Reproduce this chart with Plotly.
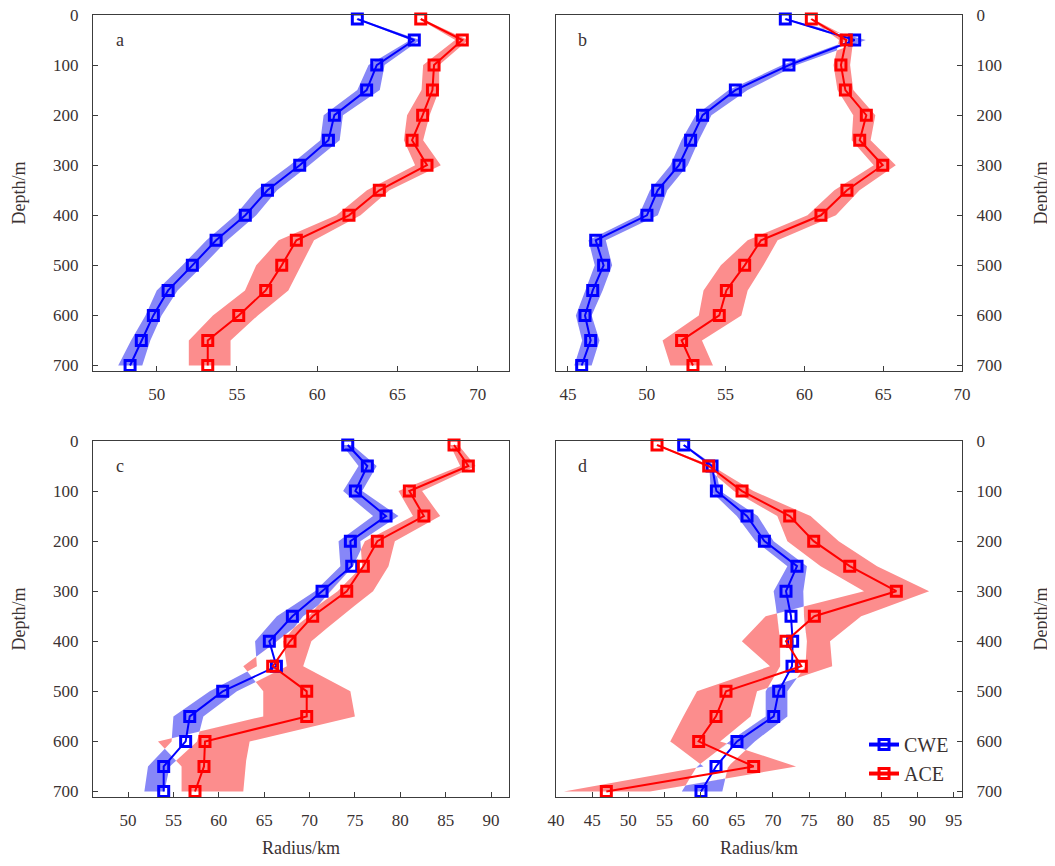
import plotly.graph_objects as go

# ---------------- data ----------------
depth = [8, 50, 100, 150, 200, 250, 300, 350, 400, 450, 500, 550, 600, 650, 700]

cwe_a = [62.50, 66.05, 63.71, 63.08, 61.07, 60.70, 58.91, 56.90, 55.52, 53.70, 52.22, 50.71, 49.79, 49.04, 48.34]
cwe_a_lo = [62.4, 65.8, 63.2, 62.5, 60.4, 60.2, 58.3, 56.2, 54.9, 53.1, 51.6, 50.0, 49.3, 48.4, 47.6]
cwe_a_hi = [62.6, 66.4, 64.2, 63.9, 61.6, 61.4, 59.5, 57.5, 56.2, 54.4, 52.9, 51.3, 50.3, 49.6, 49.1]
ace_a = [66.45, 69.04, 67.28, 67.18, 66.57, 65.91, 66.84, 63.87, 61.98, 58.70, 57.79, 56.79, 55.11, 53.18, 53.18]
ace_a_lo = [66.35, 68.6, 66.6, 66.5, 65.6, 65.4, 66.1, 63.1, 61.2, 57.6, 56.2, 55.5, 53.5, 52.0, 52.0]
ace_a_hi = [66.55, 69.4, 67.6, 67.6, 67.0, 66.6, 67.7, 64.5, 62.7, 59.8, 59.0, 58.2, 56.3, 54.6, 54.6]

cwe_b = [58.79, 63.19, 59.02, 55.62, 53.54, 52.78, 52.04, 50.69, 50.01, 46.76, 47.26, 46.57, 46.08, 46.44, 45.87]
cwe_b_lo = [58.7, 62.9, 58.6, 55.2, 53.1, 52.2, 51.5, 50.2, 49.5, 46.3, 46.7, 46.1, 45.5, 45.9, 45.4]
cwe_b_hi = [58.9, 63.9, 59.5, 56.4, 54.1, 53.3, 52.6, 51.3, 50.7, 47.4, 47.8, 47.2, 46.5, 47.0, 46.5]
ace_b = [60.44, 62.66, 62.32, 62.60, 63.93, 63.51, 64.97, 62.70, 61.05, 57.25, 56.21, 55.05, 54.60, 52.21, 52.93]
ace_b_lo = [60.35, 62.2, 61.85, 62.1, 63.1, 63.0, 64.4, 61.9, 60.2, 56.4, 54.7, 53.6, 53.3, 51.0, 51.5]
ace_b_hi = [60.55, 63.1, 62.9, 63.1, 64.5, 64.2, 65.8, 63.5, 62.0, 58.3, 57.4, 56.4, 56.0, 53.5, 54.2]

cwe_c = [74.21, 76.37, 75.05, 78.43, 74.50, 74.65, 71.38, 68.11, 65.57, 66.35, 60.43, 56.80, 56.35, 53.93, 53.93]
cwe_c_lo = [73.6, 75.4, 73.7, 77.0, 73.2, 73.4, 70.6, 66.4, 64.0, 64.2, 59.0, 55.0, 54.8, 52.2, 51.8]
cwe_c_hi = [74.7, 77.4, 75.8, 79.8, 75.6, 75.8, 73.1, 69.3, 67.1, 67.5, 62.0, 58.3, 57.6, 54.6, 54.0]
ace_c = [85.92, 87.50, 81.00, 82.60, 77.47, 75.93, 74.10, 70.35, 67.85, 65.94, 69.69, 69.69, 58.48, 58.37, 57.38]
ace_c_lo = [85.5, 86.6, 79.8, 81.4, 76.1, 74.8, 72.3, 69.9, 66.4, 62.7, 64.9, 64.9, 53.3, 55.9, 55.9]
ace_c_hi = [86.4, 88.3, 82.4, 84.4, 79.4, 78.7, 77.0, 73.5, 70.2, 69.3, 74.5, 75.0, 63.4, 62.9, 62.7]

cwe_d = [57.66, 61.58, 62.18, 66.42, 68.82, 73.33, 71.81, 72.50, 72.73, 72.64, 70.80, 70.11, 65.03, 62.13, 60.05]
cwe_d_lo = [57.5, 61.2, 61.4, 65.0, 67.6, 72.0, 70.1, 70.6, 71.0, 71.0, 69.0, 69.0, 64.0, 59.5, 57.4]
cwe_d_hi = [57.9, 62.0, 62.7, 67.9, 70.1, 74.7, 74.2, 74.3, 74.7, 74.5, 72.0, 72.0, 67.5, 63.8, 63.0]
ace_d = [53.97, 61.12, 65.73, 72.32, 75.64, 80.62, 87.07, 75.73, 71.81, 73.93, 63.51, 62.13, 59.73, 67.34, 46.96]
ace_d_lo = [53.8, 60.6, 64.6, 70.6, 72.0, 76.6, 82.6, 69.0, 65.7, 69.6, 59.5, 57.6, 55.8, 60.4, 41.1]
ace_d_hi = [54.2, 61.6, 67.3, 75.2, 79.1, 84.4, 91.6, 82.2, 77.9, 78.2, 67.8, 66.9, 62.7, 73.2, 53.0]

panel_letters = ["a", "b", "c", "d"]
x_ticks = [[50, 55, 60, 65, 70], [45, 50, 55, 60, 65, 70],
           [50, 55, 60, 65, 70, 75, 80, 85, 90],
           [40, 45, 50, 55, 60, 65, 70, 75, 80, 85, 90, 95]]
y_ticks = [0, 100, 200, 300, 400, 500, 600, 700]
series_names = ["CWE", "ACE"]

# ---------------- style ----------------
FONT = "Liberation Serif"
TXT = "#3a3232"
AX = "#3c3c3c"
BLUE = "#0000ff"
RED = "#ff0000"
BLUE_BAND = "#8787f7"
RED_BAND = "#fc8d8d"

W, H = 1055, 866
OFF = 8  # page body margin of the browser


def xdom(left, right):
    return [(left - OFF) / W, (right - OFF) / W]


def ydom(top, bottom):
    return [1 - (bottom - OFF) / H, 1 - (top - OFF) / H]


panels = [
    dict(cwe=(cwe_a, cwe_a_lo, cwe_a_hi), ace=(ace_a, ace_a_lo, ace_a_hi),
         xr=[46.03, 71.95], xd=xdom(93, 509), yd=ydom(15, 371), side="left", xtitle=False),
    dict(cwe=(cwe_b, cwe_b_lo, cwe_b_hi), ace=(ace_b, ace_b_lo, ace_b_hi),
         xr=[44.24, 70.0], xd=xdom(556, 962), yd=ydom(15, 371), side="right", xtitle=False),
    dict(cwe=(cwe_c, cwe_c_lo, cwe_c_hi), ace=(ace_c, ace_c_lo, ace_c_hi),
         xr=[46.14, 91.98], xd=xdom(93, 509), yd=ydom(441, 797), side="left", xtitle=True),
    dict(cwe=(cwe_d, cwe_d_lo, cwe_d_hi), ace=(ace_d, ace_d_lo, ace_d_hi),
         xr=[40.0, 96.15], xd=xdom(556, 962), yd=ydom(441, 797), side="right", xtitle=True),
]


def split_bands(dep, bl, bh, rl, rh):
    """Sample both bands at every depth and at every crossing of their edges."""
    ys, vals = [], []
    n = len(dep)
    for i in range(n - 1):
        f0 = [bl[i], bh[i], rl[i], rh[i]]
        f1 = [bl[i + 1], bh[i + 1], rl[i + 1], rh[i + 1]]
        ts = {0.0}
        for a in range(4):
            for b in range(a + 1, 4):
                da = f0[a] - f0[b]
                db = f1[a] - f1[b]
                if da * db < 0:
                    ts.add(da / (da - db))
        for t in sorted(ts):
            ys.append(dep[i] + t * (dep[i + 1] - dep[i]))
            vals.append([f0[k] + t * (f1[k] - f0[k]) for k in range(4)])
    ys.append(dep[-1])
    vals.append([bl[-1], bh[-1], rl[-1], rh[-1]])
    # order each band's edges
    vals = [[min(v[0], v[1]), max(v[0], v[1]), min(v[2], v[3]), max(v[2], v[3])] for v in vals]
    return ys, vals


def clamp(v, lo, hi):
    return min(max(v, lo), hi)


fig = go.Figure()
layout_axes = {}
annotations = []

for k, p in enumerate(panels):
    sfx = "" if k == 0 else str(k + 1)
    xa, ya = "x" + sfx, "y" + sfx
    cx, cl, ch = p["cwe"]
    ax_, al, ah = p["ace"]
    ys, vals = split_bands(depth, cl, ch, al, ah)
    # band pieces: where the two bands overlap the area stays blank (as in the original)
    pieces = {
        "cwe_left": ([v[0] for v in vals], [clamp(v[2], v[0], v[1]) for v in vals], BLUE_BAND),
        "cwe_right": ([clamp(v[3], v[0], v[1]) for v in vals], [v[1] for v in vals], BLUE_BAND),
        "ace_left": ([v[2] for v in vals], [clamp(v[0], v[2], v[3]) for v in vals], RED_BAND),
        "ace_right": ([clamp(v[1], v[2], v[3]) for v in vals], [v[3] for v in vals], RED_BAND),
    }
    for name, (left, right, col) in pieces.items():
        fig.add_trace(go.Scatter(
            x=left + right[::-1], y=ys + ys[::-1], mode="lines", fill="toself",
            fillcolor=col, line=dict(width=0, color=col), hoverinfo="skip",
            showlegend=False, xaxis=xa, yaxis=ya))
    for vals_x, col, nm in [(cx, BLUE, "CWE"), (ax_, RED, "ACE")]:
        fig.add_trace(go.Scatter(
            x=vals_x, y=depth, mode="lines+markers", name=nm,
            line=dict(color=col, width=2),
            marker=dict(symbol="square-open", size=10, color=col, line=dict(width=3, color=col)),
            showlegend=False, cliponaxis=False, xaxis=xa, yaxis=ya))

    common = dict(showline=True, linecolor=AX, linewidth=1.4, mirror=True,
                  ticks="inside", ticklen=5, tickwidth=1, tickcolor=AX,
                  showgrid=False, zeroline=False, automargin=False,
                  ticklabeloverflow="allow",
                  tickfont=dict(family=FONT, size=17, color=TXT))
    xaxis = dict(common, domain=p["xd"], range=p["xr"], tickvals=x_ticks[k],
                 anchor=ya, ticklabelstandoff=7)
    if p["xtitle"]:
        xaxis["title"] = dict(text="Radius/km", font=dict(family=FONT, size=18, color=TXT), standoff=12)
    yaxis = dict(common, domain=p["yd"], range=[711, 0], tickvals=y_ticks,
                 anchor=xa, side=p["side"], ticklabelstandoff=10,
                 title=dict(text="Depth/m", font=dict(family=FONT, size=18, color=TXT),
                            standoff=22 if p["side"] == "left" else 33))
    layout_axes["xaxis" + sfx] = xaxis
    layout_axes["yaxis" + sfx] = yaxis
    annotations.append(dict(text=panel_letters[k], xref=xa + " domain", yref=ya + " domain",
                            x=0.065, y=0.93, showarrow=False, xanchor="center", yanchor="middle",
                            font=dict(family=FONT, size=18, color=TXT)))

# legend entries (shown in panel d)
for col, nm in [(BLUE, series_names[0]), (RED, series_names[1])]:
    fig.add_trace(go.Scatter(
        x=[None], y=[None], mode="lines+markers", name=nm,
        line=dict(color=col, width=4),
        marker=dict(symbol="square-open", size=10, color=col, line=dict(width=3, color=col)),
        showlegend=True, xaxis="x4", yaxis="y4"))

fig.update_layout(
    template="none",
    width=W, height=H, margin=dict(l=0, r=0, t=0, b=0),
    paper_bgcolor="white", plot_bgcolor="white",
    font=dict(family=FONT, color=TXT),
    annotations=annotations,
    legend=dict(x=0.8114, y=0.172, xanchor="left", yanchor="top",
                bgcolor="rgba(0,0,0,0)", font=dict(family=FONT, size=20, color=TXT)),
    **layout_axes,
)

fig.write_html("out.html")
